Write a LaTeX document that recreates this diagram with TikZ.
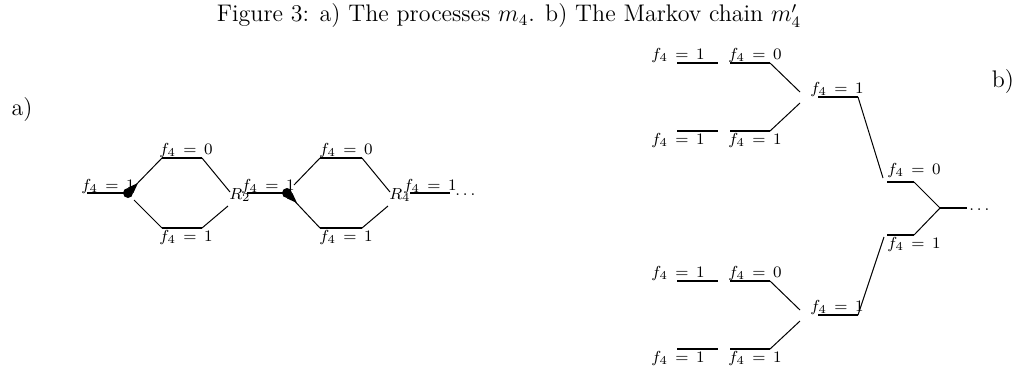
\documentclass[tikz,border=0pt]{standalone}
\usetikzlibrary{calc}
\begin{document}
\begin{tikzpicture}[x=0.5pt,y=-0.5pt,
  lbl/.style={inner sep=0pt,font=\footnotesize},
  thickln/.style={line width=1.3pt},
  thinln/.style={line width=0.5pt},
  dotc/.style={fill=black,circle,inner sep=0pt,minimum size=5pt}]
\useasboundingbox (0,0) rectangle (1016,372);
% title
\node[inner sep=0pt,font=\large] (title) at (509,16) {Figure 3: a) The processes $m_4$. b) The Markov chain $m'_4$};
\node[inner sep=0pt,font=\large] (la) at (22,110) {a)};
\node[inner sep=0pt,font=\large] (lb) at (1003,82) {b)};

% ---- part a ----
% first hexagon
\coordinate (a0) at (87,193);
\coordinate (a1) at (128,193);
\coordinate (a1b) at (134,200);
\coordinate (a2) at (162,158);
\coordinate (a3) at (202,158);
\coordinate (a4) at (230,192);
\coordinate (a4b) at (228,206);
\coordinate (a5) at (202,228);
\coordinate (a6) at (162,228);
\draw[thickln] (a0) -- (a1);
\draw[thinln] (a1) -- (a2);
\draw[thickln] (a2) -- (a3);
\draw[thinln] (a3) -- (a4);
\draw[thinln] (a4b) -- (a5);
\draw[thickln] (a5) -- (a6);
\draw[thinln] (a6) -- (a1b);
\node[dotc] (d1) at (a1) {};
\fill (d1.north) -- ($(d1.center)+(5pt,5pt)$) -- (d1.east) -- cycle;
\node[lbl] (t1) at (108,186) {$f_4\,=\,1$};
\node[lbl] (t2) at (186,150) {$f_4\,=\,0$};
\node[lbl] (t3) at (186,237) {$f_4\,=\,1$};
\node[lbl] (r2) at (240,195) {$R_2$};
% second hexagon
\coordinate (b0) at (247,193);
\coordinate (b1) at (287,193);
\coordinate (b2) at (320,158);
\coordinate (b3) at (362,158);
\coordinate (b4) at (390,192);
\coordinate (b4b) at (388,206);
\coordinate (b5) at (362,228);
\coordinate (b6) at (320,228);
\coordinate (b7) at (410,193);
\coordinate (b8) at (450,193);
\path (b1) ++(3.5pt,4pt) coordinate (b1u);
\draw[thickln] (b0) -- (b1);
\draw[thinln] (b1u) -- (b2);
\draw[thickln] (b2) -- (b3);
\draw[thinln] (b3) -- (b4);
\draw[thinln] (b4b) -- (b5);
\draw[thickln] (b5) -- (b6);
\draw[thinln] (b6) -- (b1);
\draw[thickln] (b7) -- (b8);
\node[dotc] (d2) at (b1) {};
\fill (d2.south) -- ($(d2.center)+(5pt,-5pt)$) -- (d2.east) -- cycle;
\node[lbl] (t4) at (268,186) {$f_4\,=\,1$};
\node[lbl] (t5) at (346,150) {$f_4\,=\,0$};
\node[lbl] (t6) at (346,237) {$f_4\,=\,1$};
\node[lbl] (r4) at (400,195) {$R_4$};
\node[lbl] (t7) at (430,186) {$f_4\,=\,1$};
\node[lbl,anchor=west] (dd1) at (455,195) {$\ldots$};

% ---- part b ----
\foreach \g/\dy in {u/0,v/218}{
  \coordinate (\g p1) at (677,63+\dy);
  \coordinate (\g p2) at (718,63+\dy);
  \coordinate (\g p3) at (730,63+\dy);
  \coordinate (\g p4) at (770,63+\dy);
  \coordinate (\g q1) at (677,131+\dy);
  \coordinate (\g q2) at (718,131+\dy);
  \coordinate (\g q3) at (730,131+\dy);
  \coordinate (\g q4) at (770,131+\dy);
  \coordinate (\g m0u) at (800,92+\dy);
  \coordinate (\g m0d) at (800,103+\dy);
  \coordinate (\g m1) at (818,97+\dy);
  \coordinate (\g m2) at (858,97+\dy);
  \draw[thickln] (\g p1) -- (\g p2);
  \draw[thickln] (\g p3) -- (\g p4);
  \draw[thickln] (\g q1) -- (\g q2);
  \draw[thickln] (\g q3) -- (\g q4);
  \draw[thinln] (\g p4) -- (\g m0u);
  \draw[thinln] (\g q4) -- (\g m0d);
  \draw[thickln] (\g m1) -- (\g m2);
  \node[lbl] (\g l1) at (678,55+\dy) {$f_4\,=\,1$};
  \node[lbl] (\g l2) at (755,55+\dy) {$f_4\,=\,0$};
  \node[lbl] (\g l3) at (678,140+\dy) {$f_4\,=\,1$};
  \node[lbl] (\g l4) at (755,140+\dy) {$f_4\,=\,1$};
  \node[lbl] (\g l5) at (837,89+\dy) {$f_4\,=\,1$};
}
\coordinate (c1) at (887,182);
\coordinate (c2) at (914,182);
\coordinate (c3) at (887,235);
\coordinate (c4) at (914,235);
\coordinate (c5) at (940,208);
\coordinate (c6) at (967,208);
\coordinate (e1) at (883,178);
\coordinate (e2) at (884,237);
\draw[thinln] (um2) -- (e1);
\draw[thinln] (vm2) -- (e2);
\draw[thickln] (c1) -- (c2);
\draw[thickln] (c3) -- (c4);
\draw[thinln] (c2) -- (c5);
\draw[thinln] (c4) -- (c5);
\draw[thickln] (c5) -- (c6);
\node[lbl] (cl1) at (914,170) {$f_4\,=\,0$};
\node[lbl] (cl2) at (914,244) {$f_4\,=\,1$};
\node[lbl,anchor=west] (dd2) at (969,210) {$\ldots$};
\end{tikzpicture}
\end{document}
